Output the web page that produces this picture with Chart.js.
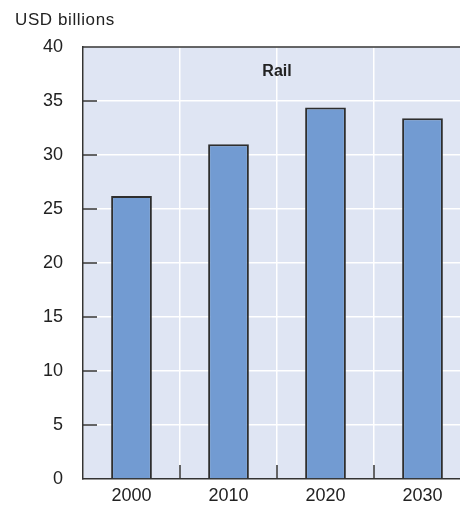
<!DOCTYPE html>
<html>
<head>
<meta charset="utf-8">
<script src="https://cdn.jsdelivr.net/npm/chart.js@4"></script>
<style>
    html, body { margin: 0; padding: 0; background: #ffffff; overflow: hidden; }
    #wrap { position: absolute; left: 0; top: 0; width: 474px; height: 510px; }
    #unit { position: absolute; left: 15px; top: 10px; font: 17px 'Liberation Sans', Arial, sans-serif; letter-spacing: 0.6px; color: #222; }
</style>
</head>
<body>
<div id="wrap"><canvas id="railChart"></canvas></div>
<div id="unit">USD billions</div>
<script>
// Data
const years = ['2000', '2010', '2020', '2030'];
const railValues = [26.2, 31.0, 34.4, 33.4];
const yTicks = [0, 5, 10, 15, 20, 25, 30, 35, 40];
const panelTitle = 'Rail';

const axisFont = { family: "'Liberation Sans', Arial, sans-serif", size: 18 };

// Light blue panel background, top border, inner tick marks and panel title
const panelPlugin = {
    id: 'panel',
    beforeDraw(chart) {
        const { ctx, chartArea: a } = chart;
        ctx.save();
        ctx.fillStyle = '#dfe5f3';
        ctx.fillRect(a.left, a.top, a.right - a.left, a.bottom - a.top);
        ctx.restore();
    },
    afterDraw(chart) {
        const { ctx, chartArea: a, scales } = chart;
        ctx.save();
        ctx.strokeStyle = '#333333';
        ctx.lineWidth = 1.5;
        // top border
        ctx.beginPath();
        ctx.moveTo(a.left, a.top);
        ctx.lineTo(a.right, a.top);
        ctx.stroke();
        // y ticks pointing inward
        yTicks.forEach(v => {
            if (v === 0 || v === 40) return;
            const y = scales.y.getPixelForValue(v);
            ctx.beginPath();
            ctx.moveTo(a.left, y);
            ctx.lineTo(a.left + 14, y);
            ctx.stroke();
        });
        // x ticks between categories, pointing inward
        for (let i = 1; i < years.length; i++) {
            const x = (scales.x.getPixelForValue(i - 1) + scales.x.getPixelForValue(i)) / 2;
            ctx.beginPath();
            ctx.moveTo(x, a.bottom);
            ctx.lineTo(x, a.bottom - 14);
            ctx.stroke();
        }
        // panel title
        ctx.fillStyle = '#222222';
        ctx.font = "bold 16px 'Liberation Sans', Arial, sans-serif";
        ctx.textAlign = 'center';
        ctx.textBaseline = 'middle';
        ctx.fillText(panelTitle, (a.left + a.right) / 2, a.top + 25);
        ctx.restore();
    }
};

const ctx = document.getElementById('railChart').getContext('2d');
new Chart(ctx, {
    type: 'bar',
    data: {
        labels: years,
        datasets: [{
            data: railValues,
            backgroundColor: '#729bd2',
            borderColor: '#2e2e2e',
            borderWidth: 2,
            barPercentage: 0.42,
            categoryPercentage: 1.0
        }]
    },
    options: {
        responsive: true,
        maintainAspectRatio: false,
        animation: false,
        layout: { padding: { top: 47, right: 3, left: 0, bottom: 0 } },
        plugins: {
            legend: { display: false },
            tooltip: { enabled: false }
        },
        scales: {
            x: {
                grid: { color: '#ffffff', lineWidth: 1.5, offset: true, drawTicks: false },
                border: { color: '#333333', width: 1.5 },
                ticks: { color: '#222222', font: axisFont, padding: 6 },
                afterFit(scale) { scale.height = 31; }
            },
            y: {
                min: 0,
                max: 40,
                grid: { color: '#ffffff', lineWidth: 1.5, drawTicks: false },
                border: { color: '#333333', width: 1.5 },
                ticks: { stepSize: 5, color: '#222222', font: axisFont, padding: 20 },
                afterFit(scale) { scale.width = 83; }
            }
        }
    },
    plugins: [panelPlugin]
});
</script>
</body>
</html>
